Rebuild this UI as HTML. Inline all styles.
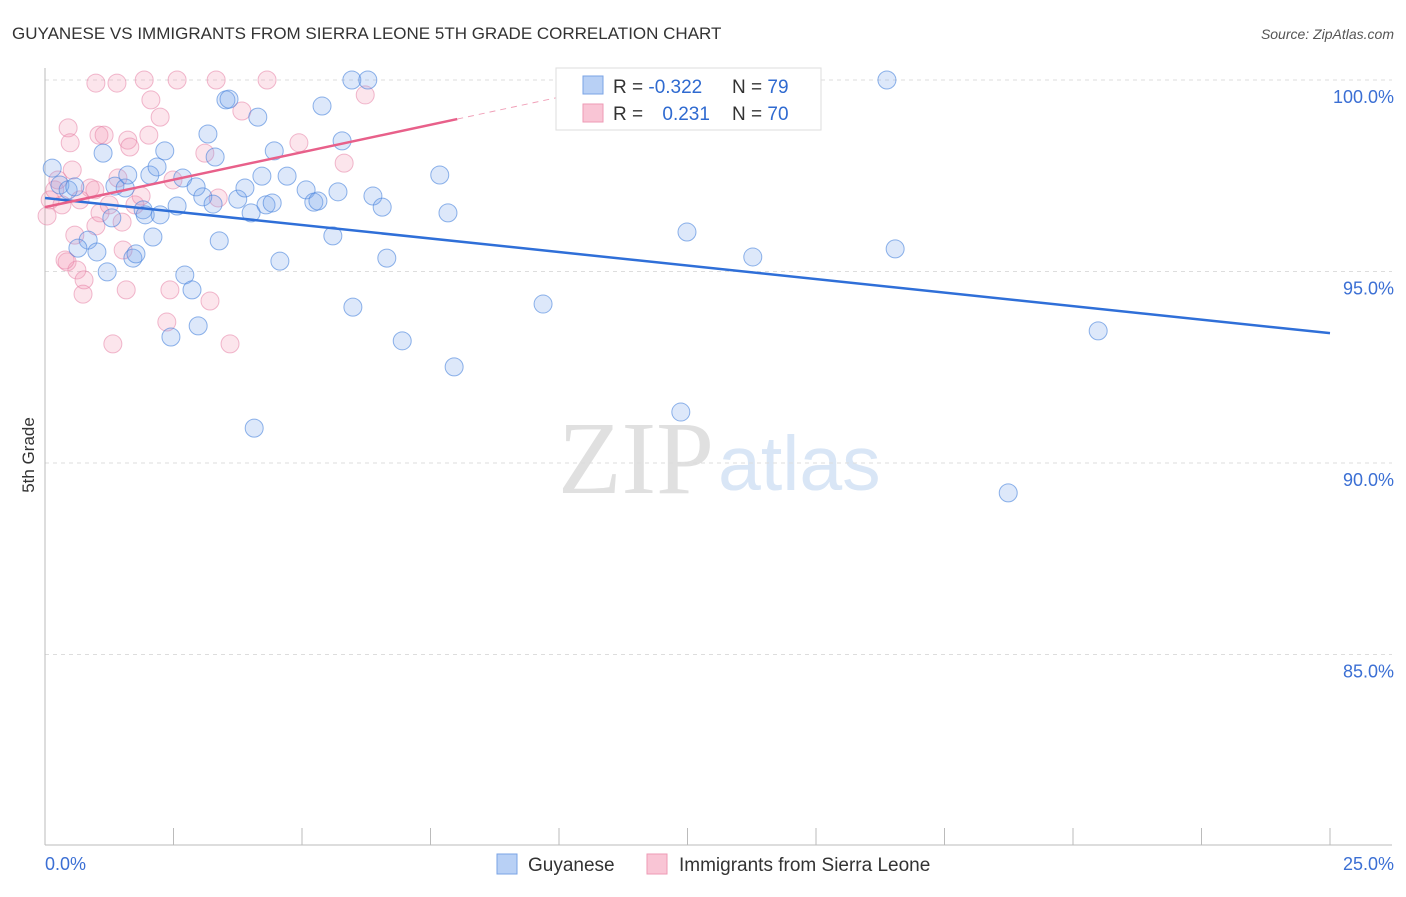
<!DOCTYPE html>
<html><head><meta charset="utf-8"><style>
body{margin:0;background:#fff;font-family:"Liberation Sans",sans-serif;}
svg text{font-family:"Liberation Sans",sans-serif;}
</style></head><body>
<svg id="chart" width="1406" height="892">
<text x="12" y="39" font-size="17" fill="#333">GUYANESE VS IMMIGRANTS FROM SIERRA LEONE 5TH GRADE CORRELATION CHART</text>
<text x="1394" y="39" font-size="14" fill="#555" font-style="italic" text-anchor="end">Source: ZipAtlas.com</text>
<text x="34" y="455" font-size="17" fill="#333" transform="rotate(-90 34 455)" text-anchor="middle">5th Grade</text>
<text x="714" y="493" font-size="104" fill="#e0e0e0" text-anchor="end" style="font-family:'Liberation Serif',serif">ZIP</text>
<text x="718" y="490" font-size="77" fill="#d9e6f6">atlas</text>
<g id="grid"></g><g id="ticks"></g><g id="pts"></g><g id="lines"></g>
<g>
<rect x="556" y="68" width="265" height="62" fill="#fff" stroke="#ddd"/>
<rect x="583" y="76" width="20" height="18" fill="#b8d0f5" stroke="#7aa3e5"/>
<rect x="583" y="104" width="20" height="18" fill="#f9c5d5" stroke="#ee9ab5"/>
<text x="613" y="93" font-size="19" fill="#333">R = <tspan fill="#2f6ad0">-0.322</tspan></text>
<text x="732" y="93" font-size="19" fill="#333">N = <tspan fill="#2f6ad0">79</tspan></text>
<text x="613" y="120" font-size="19" fill="#333">R = <tspan fill="#2f6ad0" dx="14">0.231</tspan></text>
<text x="732" y="120" font-size="19" fill="#333">N = <tspan fill="#2f6ad0">70</tspan></text>
</g>
<g>
<rect x="497" y="854" width="20" height="20" fill="#b8d0f5" stroke="#7aa3e5"/>
<text x="528" y="871" font-size="19" fill="#333">Guyanese</text>
<rect x="647" y="854" width="20" height="20" fill="#f9c5d5" stroke="#ee9ab5"/>
<text x="679" y="871" font-size="19" fill="#333">Immigrants from Sierra Leone</text>
</g>
<text x="45" y="870" font-size="18" fill="#3b6fd4">0.0%</text>
<text x="1394" y="870" font-size="18" fill="#3b6fd4" text-anchor="end">25.0%</text>
</svg>
<script>
const yTicks=[100,95,90,85];
const yTickLabels=["100.0%","95.0%","90.0%","85.0%"];
const blueX=[0.14,0.29,0.45,0.58,0.84,0.64,1.01,1.13,1.21,1.30,1.36,1.56,1.61,1.71,1.77,1.91,1.95,2.04,2.10,2.18,2.24,2.33,2.57,2.68,2.72,2.86,2.94,2.98,2.45,3.07,3.17,3.27,3.31,3.39,3.52,3.58,3.75,3.89,4.01,4.07,4.14,4.22,4.30,4.42,4.46,4.57,4.71,5.08,5.23,5.31,5.39,5.60,5.70,5.78,5.97,5.99,6.28,6.38,6.56,6.65,6.95,7.68,7.84,7.96,9.69,12.37,12.49,13.77,16.38,16.54,18.74,20.49];
const blueY=[97.70,97.26,97.13,97.21,95.82,95.61,95.51,98.09,94.99,96.40,97.23,97.18,97.52,95.35,95.46,96.61,96.48,97.52,95.90,97.73,96.48,98.15,96.71,97.44,94.91,94.52,97.21,93.58,93.29,96.95,98.59,96.76,97.99,95.80,99.48,99.50,96.89,97.18,96.53,90.91,99.03,97.49,96.74,96.79,98.15,95.27,97.49,97.13,96.81,96.84,99.32,95.93,97.08,98.41,100,94.07,100,96.97,96.68,95.35,93.19,97.52,96.53,92.51,94.15,91.33,96.03,95.38,100,95.59,89.22,93.45];
const pinkX=[0.04,0.10,0.19,0.33,0.45,0.49,0.53,0.58,0.43,0.62,0.76,0.74,0.88,0.97,1.05,1.07,1.15,0.99,1.25,1.32,1.42,1.50,1.52,1.58,1.61,1.65,1.75,1.87,2.02,2.06,2.24,2.37,2.43,2.49,2.57,1.93,1.40,0.99,3.11,3.21,3.33,3.37,3.60,3.83,4.32,4.94,5.82,6.23,0.25,0.39,0.68];
const pinkY=[96.45,96.87,97.13,96.74,98.75,98.36,97.65,95.95,95.25,95.04,94.78,94.41,97.18,97.13,98.56,96.53,98.56,96.19,96.74,93.11,97.44,96.29,95.56,94.52,98.43,98.25,96.74,96.97,98.56,99.48,99.03,93.68,94.52,97.39,100,100,99.92,99.92,98.09,94.23,100,96.92,93.11,99.19,100,98.36,97.83,99.61,97.39,95.30,96.87];
const blueTrend=[[0,96.92],[25,93.39]];
const pinkTrend=[[0,96.68],[8.02,98.98]];
const pinkDash=[[8.02,98.98],[10.1,99.58]];
const NS="http://www.w3.org/2000/svg";
const X=v=>45+v*51.4, Y=v=>80+(100-v)*38.3;
function mk(tag,attrs,parent){const e=document.createElementNS(NS,tag);for(const k in attrs)e.setAttribute(k,attrs[k]);document.getElementById(parent).appendChild(e);return e;}
yTicks.forEach((t,i)=>{
 let l=mk('line',{x1:45,x2:1392,y1:Y(t),y2:Y(t),stroke:'#ddd','stroke-dasharray':'4,4'},'grid');
 
 
 let tx=mk('text',{x:1394,y:Y(t)+23,'font-size':18,fill:'#3b6fd4','text-anchor':'end'},'grid');
 tx.textContent=yTickLabels[i];
 
 
});
mk('line',{x1:45,x2:45,y1:68,y2:845,stroke:'#bbb'},'ticks');
mk('line',{x1:45,x2:1392,y1:845,y2:845,stroke:'#bbb'},'ticks');
for(let i=0;i<=10;i++){let t=mk('line',{x1:X(i*2.5),x2:X(i*2.5),y1:828,y2:845,stroke:'#bbb'},'ticks');
 
 }
function pts(xs,ys,fill,stroke,name){xs.forEach((x,i)=>{let c=mk('circle',{cx:X(x),cy:Y(ys[i]),r:9,fill:fill,stroke:stroke,'stroke-width':1},'pts');
 
 });}
pts(pinkX,pinkY,'rgba(242,150,180,0.25)','rgba(230,130,165,0.55)','sierra-leone-point');
pts(blueX,blueY,'rgba(120,165,235,0.25)','rgba(70,130,220,0.6)','guyanese-point');
function ln(p,col,dash,name){let l=mk('line',{x1:X(p[0][0]),y1:Y(p[0][1]),x2:X(p[1][0]),y2:Y(p[1][1]),stroke:col,'stroke-width':dash?1:2.5},'lines');
 if(dash)l.setAttribute('stroke-dasharray','6,5');
 
 }
ln(blueTrend,'#2f6fd8',false,'guyanese-trendline');
ln(pinkTrend,'#e8608a',false,'sierra-leone-trendline');
ln(pinkDash,'#f0a0b8',true,'sierra-leone-trend-extension');
</script>
</body></html>
